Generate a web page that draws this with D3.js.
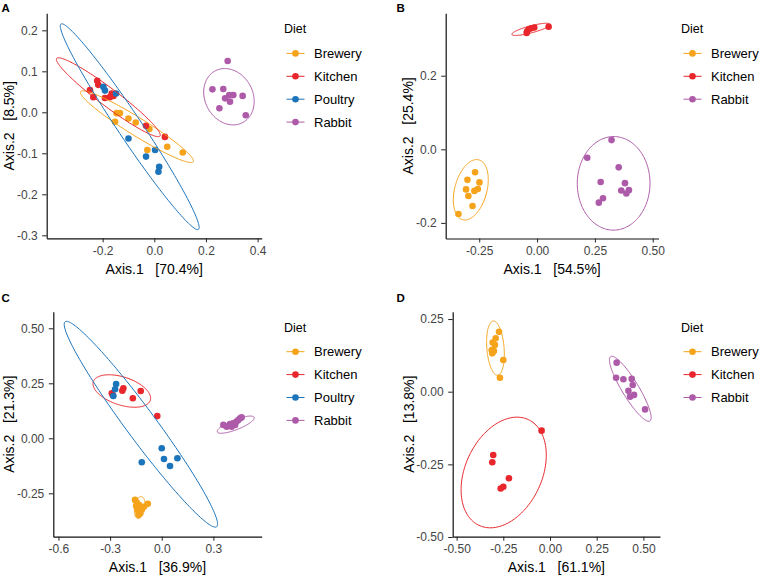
<!DOCTYPE html>
<html><head><meta charset="utf-8">
<script src="https://cdn.jsdelivr.net/npm/d3@7"></script>
<style>
body{margin:0;background:#fff}
svg{display:block}
text{font-family:"Liberation Sans",Arial,Helvetica,sans-serif}
</style>
</head><body>
<svg id="c" width="759" height="578"></svg>
<script>
// ---------- categories & colours ----------
const dietAll = ["Brewery","Kitchen","Poultry","Rabbit"];
const dietNoPoultry = ["Brewery","Kitchen","Rabbit"];
const dietColors = {Brewery:"#F5A31A", Kitchen:"#E8262B", Poultry:"#1C74BA", Rabbit:"#AD5BA9"};

// ---------- Panel A ----------
const A_Brewery = [[-0.146,-0.002],[-0.133,-0.002],[-0.152,-0.023],[-0.1,-0.015],[-0.072,-0.025],[-0.019,-0.041],[-0.027,-0.092],[0.05,-0.084],[0.11,-0.098]];
const A_Kitchen = [[-0.221,0.077],[-0.217,0.067],[-0.249,0.054],[-0.236,0.037],[-0.165,0.046],[-0.172,0.037],[-0.191,0.035],[-0.158,0.04],[-0.032,-0.033],[0.041,-0.06]];
const A_Poultry = [[-0.197,0.062],[-0.191,0.053],[-0.148,0.046],[-0.1,-0.064],[-0.032,-0.108],[0.003,-0.092],[0.019,-0.133],[0.016,-0.145]];
const A_Rabbit  = [[0.284,0.125],[0.225,0.056],[0.267,0.057],[0.252,0.01],[0.274,0.034],[0.29,0.042],[0.306,0.042],[0.293,0.026],[0.342,0.04],[0.354,-0.007]];
// ellipse: centre x,y, conjugate semi-axis a (x,y), b (x,y) in data units
const A_Ellipses = [[-0.067,-0.0351,0.218,-0.0854,-0.0184,-0.0186],[-0.178,0.0368,0.2,-0.0946,-0.0209,-0.0176],[-0.0952,-0.0351,0.266,-0.2505,0.0386,0.0163],[0.289,0.038,0.03,-0.068,0.093,0.01]];
const A_xTicks = [-0.2,0,0.2,0.4], A_xLabels = ["-0.2","0.0","0.2","0.4"];
const A_yTicks = [-0.3,-0.2,-0.1,0,0.1,0.2], A_yLabels = ["-0.3","-0.2","-0.1","0.0","0.1","0.2"];
const A_titles = ["Axis.1   [70.4%]","Axis.2   [8.5%]"];

// ---------- Panel B ----------
const B_Brewery = [[-0.268,-0.0625],[-0.301,-0.083],[-0.249,-0.09],[-0.307,-0.109],[-0.271,-0.113],[-0.256,-0.108],[-0.297,-0.127],[-0.279,-0.154],[-0.34,-0.176]];
const B_Kitchen = [[-0.045,0.316],[-0.043,0.321],[-0.036,0.326],[-0.025,0.329],[-0.012,0.331],[0.05,0.333]];
const B_Rabbit  = [[0.322,0.025],[0.217,-0.023],[0.353,-0.049],[0.275,-0.089],[0.38,-0.092],[0.364,-0.112],[0.386,-0.12],[0.397,-0.111],[0.285,-0.133],[0.267,-0.145]];
const B_Ellipses = [[-0.2865,-0.11,0.035,0.0813,0.067,-0.0113],[-0.026,0.326,0.083,0.0138,0.0038,-0.0092],[0.331,-0.0925,0.008,0.127,0.157,-0.006]];
const B_xTicks = [-0.25,0,0.25,0.5], B_xLabels = ["-0.25","0.00","0.25","0.50"];
const B_yTicks = [-0.2,0,0.2], B_yLabels = ["-0.2","0.0","0.2"];
const B_titles = ["Axis.1   [54.5%]","Axis.2   [25.4%]"];

// ---------- Panel C ----------
const C_Brewery = [[-0.155,-0.28],[-0.145,-0.292],[-0.13,-0.303],[-0.141,-0.326],[-0.126,-0.341],[-0.116,-0.323],[-0.103,-0.311],[-0.081,-0.298],[-0.135,-0.348],[-0.149,-0.308]];
const C_Kitchen = [[-0.29,0.205],[-0.284,0.196],[-0.223,0.227],[-0.229,0.216],[-0.168,0.182],[-0.122,0.215],[-0.026,0.101]];
const C_Poultry = [[-0.265,0.247],[-0.271,0.223],[-0.281,0.192],[-0.116,-0.109],[0,-0.045],[0.013,-0.094],[0.048,-0.126],[0.091,-0.091]];
const C_Rabbit  = [[0.358,0.061],[0.377,0.053],[0.397,0.065],[0.416,0.068],[0.435,0.076],[0.445,0.083],[0.455,0.091],[0.464,0.095],[0.406,0.053],[0.426,0.061]];
const C_Ellipses = [[-0.128,-0.315,0.008,0.05,0.03,0],[-0.232,0.215,0.1655,-0.0423,-0.0252,-0.0605],[-0.121,0.064,0.44,-0.466,0.07,0.0405],[0.43,0.062,0.107,0.033,0.0104,-0.021]];
const C_xTicks = [-0.6,-0.3,0,0.3], C_xLabels = ["-0.6","-0.3","0.0","0.3"];
const C_yTicks = [-0.25,0,0.25,0.5], C_yLabels = ["-0.25","0.00","0.25","0.50"];
const C_titles = ["Axis.1   [36.9%]","Axis.2   [21.3%]"];

// ---------- Panel D ----------
const D_Brewery = [[-0.273,0.206],[-0.291,0.184],[-0.307,0.169],[-0.295,0.161],[-0.312,0.143],[-0.3,0.14],[-0.309,0.132],[-0.25,0.109],[-0.268,0.048]];
const D_Kitchen = [[-0.045,-0.134],[-0.304,-0.218],[-0.309,-0.243],[-0.22,-0.298],[-0.25,-0.327],[-0.264,-0.333]];
const D_Rabbit  = [[0.357,0.1],[0.354,0.048],[0.393,0.043],[0.4375,0.044],[0.443,0.023],[0.42,0.003],[0.429,-0.017],[0.45,-0.011],[0.509,-0.061]];
const D_Ellipses = [[-0.292,0.15,-0.0118,0.0933,0.046,0.0024],[-0.248,-0.278,0.132,0.182,0.186,-0.056],[0.43,0.01,0.105,-0.111,0.038,0.015]];
const D_xTicks = [-0.5,-0.25,0,0.25,0.5], D_xLabels = ["-0.50","-0.25","0.00","0.25","0.50"];
const D_yTicks = [-0.5,-0.25,0,0.25], D_yLabels = ["-0.50","-0.25","0.00","0.25"];
const D_titles = ["Axis.1   [61.1%]","Axis.2   [13.8%]"];

const svg = d3.select("#c");

function drawPanel(cfg){
  const x = d3.scaleLinear().domain(cfg.xDom).range(cfg.xRange);
  const y = d3.scaleLinear().domain(cfg.yDom).range(cfg.yRange);
  const g = svg.append("g");

  // points
  cfg.groups.forEach((gr,i)=>{
    g.append("g").selectAll("circle").data(cfg.series[i]).join("circle")
      .attr("cx",d=>x(d[0])).attr("cy",d=>y(d[1])).attr("r",3.3)
      .attr("fill",dietColors[gr]);
  });
  // ellipses
  const line = d3.line().x(d=>x(d[0])).y(d=>y(d[1]));
  cfg.groups.forEach((gr,i)=>{
    const e = cfg.ellipses[i];
    const pts = d3.range(0,360,2).map(t=>{const r=t*Math.PI/180;
      return [e[0]+e[2]*Math.cos(r)+e[4]*Math.sin(r), e[1]+e[3]*Math.cos(r)+e[5]*Math.sin(r)];});
    g.append("path").attr("d",line(pts)+"Z").attr("fill","none")
      .attr("stroke",dietColors[gr]).attr("stroke-width",1);
  });

  // axes
  const xAxis = d3.axisBottom(x).tickValues(cfg.xTicks)
    .tickFormat((d,i)=>cfg.xLabels[i]).tickSize(4).tickSizeOuter(0).tickPadding(4);
  const yAxis = d3.axisLeft(y).tickValues(cfg.yTicks)
    .tickFormat((d,i)=>cfg.yLabels[i]).tickSize(4.5).tickSizeOuter(0).tickPadding(4.5);
  const gx = g.append("g").attr("transform",`translate(0,${cfg.yRange[0]})`).call(xAxis);
  const gy = g.append("g").attr("transform",`translate(${cfg.xRange[0]},0)`).call(yAxis);
  [gx,gy].forEach(a=>{
    a.select(".domain").attr("stroke","#111").attr("stroke-width",1.2);
    a.selectAll(".tick line").attr("stroke","#222").attr("stroke-width",1);
    a.selectAll(".tick text").attr("fill","#444").style("font-size","12px")
      .style("font-family",'"Liberation Sans",Arial,sans-serif');
  });

  // axis titles
  const xc = (cfg.xRange[0]+cfg.xRange[1])/2, yc = (cfg.yRange[0]+cfg.yRange[1])/2;
  g.append("text").attr("x",xc).attr("y",cfg.yRange[0]+35.5).attr("text-anchor","middle")
    .style("font-size","14px").style("white-space","pre").attr("fill","#000").text(cfg.titles[0]);
  g.append("text").attr("transform",`translate(${cfg.yTitleX},${yc}) rotate(-90)`).attr("text-anchor","middle")
    .style("font-size","14px").style("white-space","pre").attr("fill","#000").text(cfg.titles[1]);

  // panel tag
  g.append("text").attr("x",cfg.tag[1]).attr("y",cfg.tag[2]).style("font-size","11.5px")
    .style("font-weight","bold").text(cfg.tag[0]);

  // legend
  const lg = g.append("g").attr("transform",`translate(${cfg.legend[0]},${cfg.legend[1]})`);
  lg.append("text").attr("x",0).attr("y",4.3).style("font-size","12.5px").attr("fill","#000").text("Diet");
  cfg.groups.forEach((gr,i)=>{
    const yy = 24.4 + i*22.9;
    lg.append("line").attr("x1",2.5).attr("x2",20.5).attr("y1",yy).attr("y2",yy)
      .attr("stroke",dietColors[gr]).attr("stroke-width",1);
    lg.append("circle").attr("cx",11.5).attr("cy",yy).attr("r",3.3).attr("fill",dietColors[gr]);
    lg.append("text").attr("x",30).attr("y",yy+4.5).style("font-size","13px").attr("fill","#000").text(gr);
  });
}

drawPanel({groups:dietAll, series:[A_Brewery,A_Kitchen,A_Poultry,A_Rabbit], ellipses:A_Ellipses,
  xDom:[-0.4166,0.4158], yDom:[-0.3073,0.2415], xRange:[46.7,261.7], yRange:[238.3,13.3],
  xTicks:A_xTicks, xLabels:A_xLabels, yTicks:A_yTicks, yLabels:A_yLabels, titles:A_titles,
  yTitleX:13.5, tag:["A",1.5,11.8], legend:[284,29]});

drawPanel({groups:dietNoPoultry, series:[B_Brewery,B_Kitchen,B_Rabbit], ellipses:B_Ellipses,
  xDom:[-0.395,0.525], yDom:[-0.2424,0.3696], xRange:[445.7,658.5], yRange:[238.5,13.3],
  xTicks:B_xTicks, xLabels:B_xLabels, yTicks:B_yTicks, yLabels:B_yLabels, titles:B_titles,
  yTitleX:412.5, tag:["B",396.5,11.8], legend:[681,29]});

drawPanel({groups:dietAll, series:[C_Brewery,C_Kitchen,C_Poultry,C_Rabbit], ellipses:C_Ellipses,
  xDom:[-0.63,0.5807], yDom:[-0.4473,0.5755], xRange:[53.3,261.7], yRange:[536.7,311.7],
  xTicks:C_xTicks, xLabels:C_xLabels, yTicks:C_yTicks, yLabels:C_yLabels, titles:C_titles,
  yTitleX:13.5, tag:["C",1.5,301.5], legend:[284,327.3]});

drawPanel({groups:dietNoPoultry, series:[D_Brewery,D_Kitchen,D_Rabbit], ellipses:D_Ellipses,
  xDom:[-0.521,0.589], yDom:[-0.499,0.2753], xRange:[452.7,660], yRange:[536.7,311.7],
  xTicks:D_xTicks, xLabels:D_xLabels, yTicks:D_yTicks, yLabels:D_yLabels, titles:D_titles,
  yTitleX:413.5, tag:["D",396.5,301.5], legend:[681,327.3]});
</script>
</body></html>
